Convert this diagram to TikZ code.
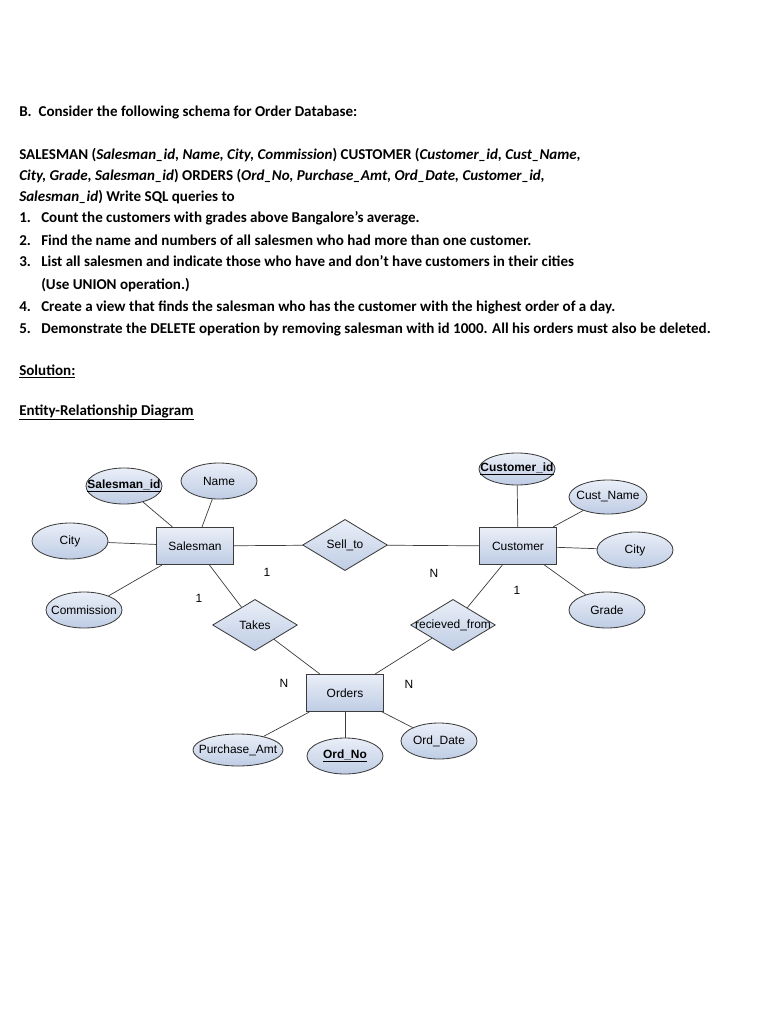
\documentclass[tikz,border=0pt]{standalone}
\usepackage{fontspec}
\setmainfont{Carlito}
\newfontfamily\erfont{Liberation Sans}
\usetikzlibrary{shapes.geometric}
\definecolor{erlight}{RGB}{234,239,248}
\definecolor{erblue}{RGB}{190,204,228}
\definecolor{erline}{RGB}{60,60,60}

\begin{document}
\begin{tikzpicture}[x=0.025cm,y=-0.025cm,
    txt/.style={anchor=base west, inner sep=0, font=\fontsize{10.7}{12}\selectfont\bfseries},
    er/.style={draw=erline, line width=0.6pt, top color=erlight, bottom color=erblue, inner sep=0,
        font=\erfont\fontsize{8.5}{10}\selectfont},
    entity/.style={er, rectangle, minimum width=1.92cm, minimum height=0.93cm},
    attrib/.style={er, ellipse, minimum width=1.9cm, minimum height=0.9cm},
    rel/.style={er, diamond, minimum width=2.12cm, minimum height=1.28cm},
    card/.style={inner sep=0, font=\erfont\fontsize{8.5}{10}\selectfont},
    link/.style={draw=erline, line width=0.5pt}]
    \useasboundingbox (0,0) rectangle (768,1024);

    % Question text
    \node[txt] (head) at (19,117) {B.\ \ Consider the following schema for Order Database:};
    \node[txt] (s1) at (19,160) {SALESMAN (\textit{Salesman\_id, Name, City, Commission}) CUSTOMER (\textit{Customer\_id, Cust\_Name,}};
    \node[txt] (s2) at (19,181) {\textit{City, Grade, Salesman\_id}) ORDERS (\textit{Ord\_No, Purchase\_Amt, Ord\_Date, Customer\_id,}};
    \node[txt] (s3) at (19,202) {\textit{Salesman\_id}) Write SQL queries to};
    \node[txt] (n1) at (19,223) {1.};
    \node[txt] (q1) at (41,223) {Count the customers with grades above Bangalore’s average.};
    \node[txt] (n2) at (19,245) {2.};
    \node[txt] (q2) at (41,245) {Find the name and numbers of all salesmen who had more than one customer.};
    \node[txt] (n3) at (19,267) {3.};
    \node[txt] (q3) at (41,267) {List all salesmen and indicate those who have and don’t have customers in their cities};
    \node[txt] (q3b) at (41,289) {(Use UNION operation.)};
    \node[txt] (n4) at (19,311) {4.};
    \node[txt] (q4) at (41,311) {Create a view that finds the salesman who has the customer with the highest order of a day.};
    \node[txt] (n5) at (19,333) {5.};
    \node[txt] (q5) at (41,333) {Demonstrate the DELETE operation by removing salesman with id 1000. All his orders must also be deleted.};
    \node[txt] (sol) at (19,375) {\underline{Solution:}};
    \node[txt] (erd) at (19,415) {\underline{Entity-Relationship Diagram}};

    % Entities
    \node[entity] (salesman) at (195,546) {Salesman};
    \node[entity] (customer) at (518,546) {Customer};
    \node[entity] (orders) at (345,693) {Orders};

    % Relationships
    \node[rel] (sellto) at (345,545) {Sell\_to};
    \node[rel] (takes) at (255,625) {Takes};
    \node[rel] (recv) at (453,625) {\makebox[0pt]{recieved\_from}};

    % Salesman attributes
    \node[attrib] (sid) at (124,486) {\makebox[0pt]{\textbf{\underline{Salesman\_id}}}};
    \node[attrib] (sname) at (219,481) {Name};
    \node[attrib] (scity) at (70,541) {City};
    \node[attrib] (scomm) at (84,610) {\makebox[0pt]{Commission}};
    % Customer attributes
    \node[attrib, minimum height=0.8cm] (cid) at (517,469) {\makebox[0pt]{\textbf{\underline{Customer\_id}}}};
    \node[attrib, minimum width=1.95cm, minimum height=0.85cm] (cname) at (608,497) {\makebox[0pt]{Cust\_Name}};
    \node[attrib] (ccity) at (635,550) {City};
    \node[attrib] (cgrade) at (607,610) {Grade};
    % Orders attributes
    \node[attrib, minimum width=2.25cm, minimum height=0.8cm] (oamt) at (238,750) {\makebox[0pt]{Purchase\_Amt}};
    \node[attrib] (ono) at (345,756) {\textbf{\underline{Ord\_No}}};
    \node[attrib] (odate) at (439,741) {Ord\_Date};

    % Connectors
    \draw[link] (sid) -- (salesman);
    \draw[link] (sname) -- (salesman);
    \draw[link] (scity) -- (salesman);
    \draw[link] (scomm) -- (salesman);
    \draw[link] (salesman) -- (sellto) -- (customer);
    \draw[link] (salesman) -- (takes) -- (orders);
    \draw[link] (cid) -- (customer);
    \draw[link] (cname) -- (customer);
    \draw[link] (ccity) -- (customer);
    \draw[link] (cgrade) -- (customer);
    \draw[link] (customer) -- (recv) -- (orders);
    \draw[link] (oamt) -- (orders);
    \draw[link] (ono) -- (orders);
    \draw[link] (odate) -- (orders);

    % Cardinalities
    \node[card] (k1) at (267,572) {1};
    \node[card] (k2) at (199,598) {1};
    \node[card] (k3) at (434,573) {N};
    \node[card] (k4) at (517,590) {1};
    \node[card] (k5) at (284,683) {N};
    \node[card] (k6) at (409,684) {N};
\end{tikzpicture}
\end{document}
